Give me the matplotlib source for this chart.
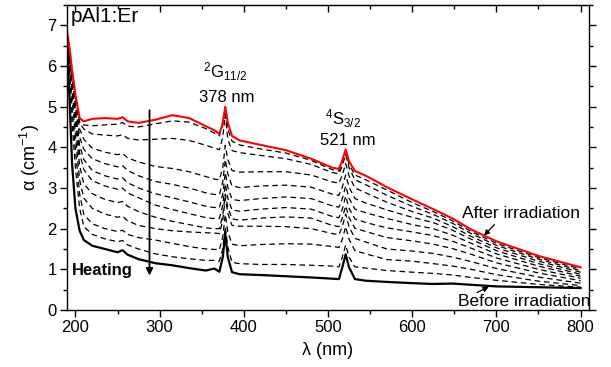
import numpy as np
import matplotlib
matplotlib.use("Agg")
import matplotlib.pyplot as plt
from matplotlib.ticker import MultipleLocator

plt.rcParams['font.family'] = ['Liberation Sans', 'DejaVu Sans']
plt.rcParams['mathtext.fontset'] = 'custom'
plt.rcParams['mathtext.rm'] = 'Liberation Sans'
plt.rcParams['mathtext.it'] = 'Liberation Sans:italic'
plt.rcParams['mathtext.bf'] = 'Liberation Sans:bold'

wavelength = [190, 193, 196, 200, 205, 210, 220, 235, 250, 256, 262, 275, 295, 315, 335,
              355, 365, 371, 375, 378, 381, 386, 395, 420, 450, 480, 505, 513, 517, 521,
              525, 532, 545, 570, 600, 625, 648, 670, 700, 750, 800]

after_irradiation = [6.85, 6.45, 5.9, 5.3, 4.72, 4.64, 4.70, 4.72, 4.70, 4.74, 4.64, 4.60, 4.68, 4.79, 4.72,
                     4.52, 4.42, 4.33, 4.6, 5.0, 4.6, 4.28, 4.17, 4.06, 3.93, 3.72, 3.50, 3.47, 3.68, 3.95,
                     3.65, 3.42, 3.30, 3.02, 2.72, 2.48, 2.25, 1.98, 1.69, 1.33, 1.05]

before_irradiation = [6.6, 5.2, 3.6, 2.5, 1.95, 1.72, 1.58, 1.50, 1.42, 1.47, 1.36, 1.25, 1.15, 1.10, 1.03,
                      0.97, 1.02, 0.94, 1.3, 1.88, 1.3, 0.93, 0.88, 0.86, 0.83, 0.80, 0.77, 0.76, 1.05, 1.37,
                      1.05, 0.76, 0.72, 0.69, 0.66, 0.64, 0.65, 0.62, 0.58, 0.56, 0.54]

heating_1 = [6.8, 6.45, 5.9, 5.3, 4.62, 4.55, 4.53, 4.55, 4.57, 4.61, 4.52, 4.50, 4.58, 4.65, 4.62,
             4.46, 4.35, 4.28, 4.58, 4.9, 4.45, 4.15, 4.06, 3.96, 3.86, 3.68, 3.45, 3.42, 3.62, 3.88,
             3.58, 3.32, 3.2, 2.95, 2.64, 2.42, 2.19, 1.93, 1.64, 1.29, 1.01]
heating_2 = [6.8, 6.4, 5.85, 5.25, 4.6, 4.45, 4.33, 4.30, 4.28, 4.31, 4.22, 4.18, 4.20, 4.22, 4.17,
             4.05, 3.98, 3.94, 4.25, 4.8, 4.2, 3.92, 3.87, 3.80, 3.72, 3.58, 3.38, 3.35, 3.55, 3.82,
             3.5, 3.2, 3.08, 2.82, 2.55, 2.35, 2.13, 1.88, 1.59, 1.25, 0.97]
heating_3 = [6.75, 6.35, 5.8, 5.15, 4.45, 4.2, 3.98, 3.88, 3.82, 3.85, 3.74, 3.64, 3.53, 3.48, 3.40,
             3.28, 3.22, 3.20, 3.5, 4.05, 3.7, 3.43, 3.39, 3.40, 3.40, 3.32, 3.15, 3.12, 3.32, 3.6,
             3.3, 3.0, 2.88, 2.65, 2.42, 2.26, 2.05, 1.81, 1.53, 1.20, 0.93]
heating_4 = [6.75, 6.3, 5.7, 5.0, 4.25, 3.95, 3.72, 3.6, 3.52, 3.55, 3.43, 3.30, 3.16, 3.09, 3.0,
             2.88, 2.84, 2.84, 3.15, 3.7, 3.35, 3.05, 3.01, 3.05, 3.07, 3.02, 2.85, 2.82, 3.02, 3.32,
             3.02, 2.74, 2.63, 2.46, 2.28, 2.15, 1.96, 1.74, 1.46, 1.14, 0.88]
heating_5 = [6.7, 6.25, 5.6, 4.9, 4.05, 3.7, 3.43, 3.3, 3.22, 3.25, 3.13, 3.00, 2.86, 2.76, 2.66,
             2.55, 2.52, 2.52, 2.85, 3.38, 3.02, 2.72, 2.69, 2.74, 2.78, 2.74, 2.56, 2.53, 2.74, 3.05,
             2.75, 2.48, 2.39, 2.25, 2.10, 2.0, 1.84, 1.64, 1.38, 1.08, 0.83]
heating_6 = [6.7, 6.2, 5.5, 4.75, 3.85, 3.45, 3.18, 3.05, 2.97, 3.0, 2.88, 2.76, 2.58, 2.47, 2.37,
             2.27, 2.25, 2.25, 2.58, 3.1, 2.75, 2.46, 2.43, 2.48, 2.52, 2.48, 2.30, 2.27, 2.48, 2.8,
             2.5, 2.24, 2.15, 2.02, 1.92, 1.83, 1.69, 1.52, 1.28, 1.0, 0.78]
heating_7 = [6.7, 6.1, 5.4, 4.55, 3.55, 3.1, 2.86, 2.72, 2.64, 2.67, 2.55, 2.42, 2.28, 2.18, 2.1,
             2.02, 2.0, 2.0, 2.33, 2.85, 2.52, 2.24, 2.21, 2.26, 2.29, 2.26, 2.08, 2.05, 2.26, 2.56,
             2.27, 2.01, 1.93, 1.78, 1.70, 1.62, 1.51, 1.37, 1.16, 0.91, 0.72]
heating_8 = [6.65, 6.0, 5.2, 4.3, 3.2, 2.75, 2.50, 2.36, 2.28, 2.31, 2.19, 2.08, 2.0, 1.95, 1.92,
             1.90, 1.89, 1.88, 2.2, 2.75, 2.38, 2.08, 2.06, 2.06, 2.05, 2.0, 1.88, 1.85, 2.05, 2.36,
             2.05, 1.76, 1.67, 1.50, 1.45, 1.39, 1.30, 1.19, 1.02, 0.81, 0.66]
heating_9 = [6.6, 5.85, 4.95, 3.95, 2.85, 2.35, 2.12, 2.0, 1.93, 1.96, 1.86, 1.78, 1.72, 1.64, 1.56,
             1.50, 1.49, 1.48, 1.8, 2.35, 1.92, 1.62, 1.58, 1.61, 1.63, 1.62, 1.56, 1.54, 1.74, 2.05,
             1.74, 1.46, 1.38, 1.24, 1.20, 1.14, 1.08, 1.0, 0.87, 0.71, 0.60]
heating_10 = [6.6, 5.6, 4.6, 3.5, 2.5, 2.05, 1.86, 1.75, 1.68, 1.71, 1.60, 1.50, 1.38, 1.31, 1.26,
              1.22, 1.22, 1.20, 1.5, 2.05, 1.55, 1.17, 1.14, 1.12, 1.12, 1.10, 1.08, 1.06, 1.3, 1.6,
              1.3, 1.06, 1.03, 0.97, 0.93, 0.90, 0.86, 0.80, 0.73, 0.63, 0.56]

heating_curves = [heating_1, heating_2, heating_3, heating_4, heating_5,
                  heating_6, heating_7, heating_8, heating_9, heating_10]

x_ticks = [200, 300, 400, 500, 600, 700, 800]
y_ticks = [0, 1, 2, 3, 4, 5, 6, 7]

fig = plt.figure(figsize=(6.11, 3.67), dpi=100)
ax = fig.add_axes([67/611, 1 - 310/367, 522/611, 305/367])

for c in heating_curves:
    ax.plot(wavelength, c, color='black', lw=0.9, ls=(0, (4.5, 3)))
ax.plot(wavelength, before_irradiation, color='black', lw=1.6, solid_joinstyle='round')
ax.plot(wavelength, after_irradiation, color='#ff0000', lw=1.5, solid_joinstyle='round')

ax.set_xlim(190, 810)
ax.set_ylim(0, 7.5)
ax.set_xticks(x_ticks)
ax.set_yticks(y_ticks)
ax.xaxis.set_minor_locator(MultipleLocator(50))
ax.yaxis.set_minor_locator(MultipleLocator(0.5))
ax.tick_params(axis='both', which='major', labelsize=12, direction='out', length=5, width=1.0,
               top=False, right=True, pad=2.5)
ax.tick_params(axis='both', which='minor', direction='out', length=3, width=1.0, top=False, right=True)
for s in ax.spines.values():
    s.set_linewidth(1.0)

# top inward ticks
sec = ax.secondary_xaxis('top')
sec.set_xticks(x_ticks)
sec.xaxis.set_minor_locator(MultipleLocator(50))
sec.tick_params(which='major', direction='in', length=5, width=1.0, labeltop=False)
sec.tick_params(which='minor', direction='in', length=3, width=1.0)
sec.set_xticklabels([])

ax.set_xlabel('λ (nm)', fontsize=13, labelpad=5)
ax.set_ylabel('α (cm$^{-1}$)', fontsize=13, labelpad=4)

ax.text(0.008, 0.995, 'pAl1:Er', transform=ax.transAxes, fontsize=15, va='top', ha='left')
ax.text(378, 5.58, r'$^{2}$G$_{11/2}$', fontsize=12, ha='center', va='bottom')
ax.text(380, 5.03, '378 nm', fontsize=12, ha='center', va='bottom')
ax.text(518, 4.42, r'$^{4}$S$_{3/2}$', fontsize=12, ha='center', va='bottom')
ax.text(523, 3.98, '521 nm', fontsize=12, ha='center', va='bottom')

ax.text(659, 2.38, 'After irradiation', fontsize=12.5, ha='left', va='center')
ax.annotate('', xy=(683, 1.78), xytext=(700, 2.15),
            arrowprops=dict(arrowstyle='-|>', color='black', lw=0.9, mutation_scale=8))
ax.text(812, 0.2, 'Before irradiation', fontsize=12.5, ha='right', va='center')
ax.annotate('', xy=(694, 0.6), xytext=(674, 0.4),
            arrowprops=dict(arrowstyle='-|>', color='black', lw=0.9, mutation_scale=8))

ax.annotate('', xy=(288, 0.78), xytext=(288, 4.98),
            arrowprops=dict(arrowstyle='-|>', color='black', lw=1.3, mutation_scale=10))
ax.text(196, 0.97, 'Heating', fontsize=12, fontweight='bold', ha='left', va='center')

fig.savefig('out.png', dpi=100)
